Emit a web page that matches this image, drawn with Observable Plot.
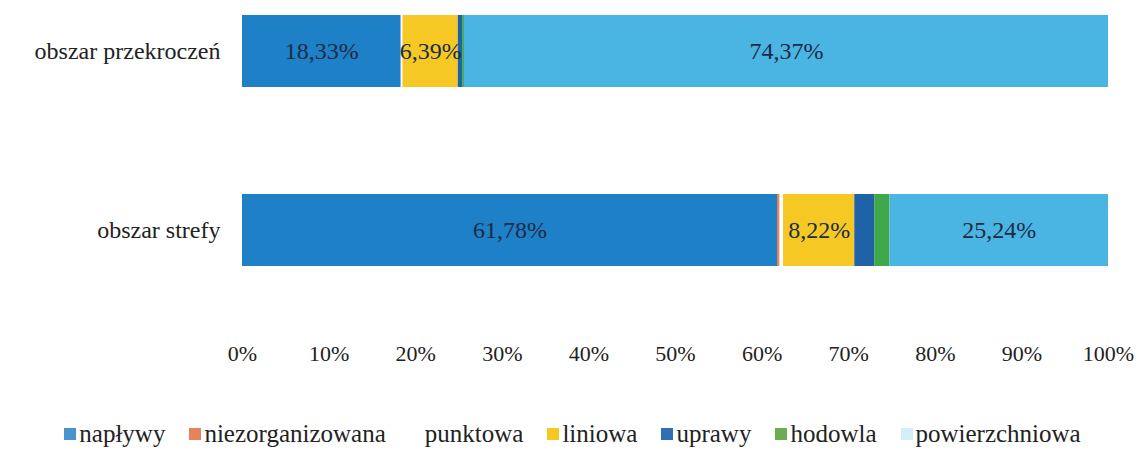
<!DOCTYPE html>
<html><head><meta charset="utf-8">
<script src="https://cdn.jsdelivr.net/npm/d3@7"></script>
<script src="https://cdn.jsdelivr.net/npm/@observablehq/plot@0.6"></script>
<style>
body{margin:0;background:#fff;font-family:"Liberation Serif",serif;}
#legend{display:flex;justify-content:center;margin-top:40px;font-size:25px;color:#222;}
#legend .it{display:flex;align-items:center;margin:0 12px;}
#legend .sw{width:12px;height:12px;margin-right:3px;}
</style></head><body>
<div id="chart"></div>
<div id="legend"></div>
<script>
const categories = ["obszar przekroczeń", "obszar strefy"];
const series = ["napływy", "niezorganizowana", "punktowa", "liniowa", "uprawy", "hodowla", "powierzchniowa"];
const przekroczen = [18.33, 0, 0.2, 6.39, 0.5, 0.21, 74.37];
const strefy = [61.78, 0.3, 0.4, 8.22, 2.3, 1.76, 25.24];
const barColors = ["#1e80c6", "#e8825a", "#ffffff", "#f6c823", "#1f62a8", "#3fa84a", "#4ab4e2"];
const legendColors = ["#4a94cc", "#e8825a", "#ffffff", "#f6c823", "#2f6fb2", "#6aad52", "#d4eef7"];
const xTicks = [0, 10, 20, 30, 40, 50, 60, 70, 80, 90, 100];

const data = [];
[przekroczen, strefy].forEach((vals, i) => {
  vals.forEach((v, j) => data.push({cat: categories[i], series: series[j], value: v}));
});

const fmt = v => v.toFixed(2).replace(".", ",") + "%";
const FONT = "'Liberation Serif', serif";

const chart = Plot.plot({
  width: 1145,
  height: 380,
  marginLeft: 242,
  marginRight: 37,
  marginTop: 0,
  marginBottom: 100,
  style: {fontFamily: FONT, fontSize: "22px", color: "#222"},
  x: {domain: [0, 100], ticks: xTicks, tickFormat: d => d + "%", tickSize: 0, tickPadding: 65, label: null},
  y: {domain: categories, paddingInner: 0.6, paddingOuter: 0.078, tickSize: 0, tickPadding: 22, label: null},
  color: {domain: series, range: barColors},
  marks: [
    Plot.barX(data, Plot.stackX({x: "value", y: "cat", fill: "series", order: series})),
    Plot.text(data, Plot.stackX({x: "value", y: "cat", z: "series", order: series,
      text: d => d.value > 5 ? fmt(d.value) : "", fill: "#1d2b45", fontSize: 24}))
  ]
});
chart.querySelectorAll("g[aria-label='y-axis tick label'] text").forEach(t => t.setAttribute("font-size", "24"));
document.getElementById("chart").appendChild(chart);

const lg = document.getElementById("legend");
series.forEach((s, i) => {
  const it = document.createElement("div"); it.className = "it";
  const sw = document.createElement("div"); sw.className = "sw"; sw.style.background = legendColors[i];
  const tx = document.createElement("span"); tx.textContent = s;
  it.appendChild(sw); it.appendChild(tx); lg.appendChild(it);
});
</script>
</body></html>
